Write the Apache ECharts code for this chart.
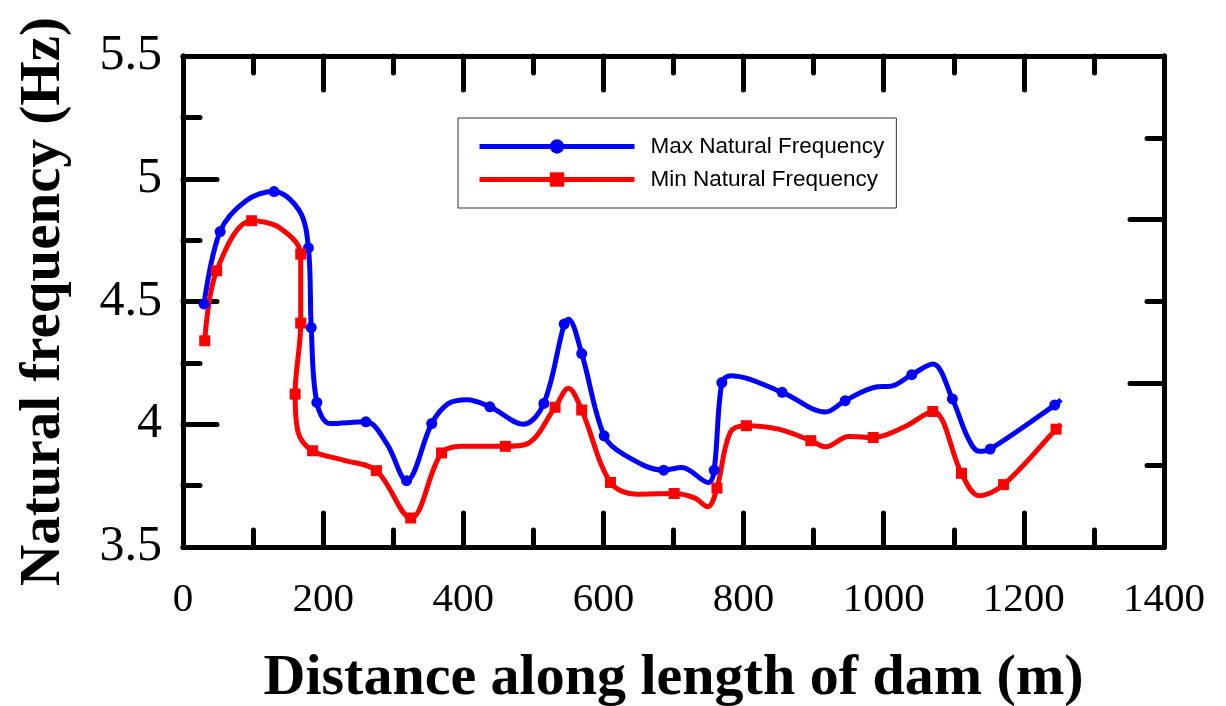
<!DOCTYPE html>
<html>
<head>
<meta charset="utf-8">
<script src="https://cdn.jsdelivr.net/npm/echarts@6/dist/echarts.min.js"></script>
<style>
  html, body { margin: 0; padding: 0; background: #fff; }
  #chart { width: 1226px; height: 706px; }
</style>
</head>
<body>
<div id="chart"></div>
<script>
// distance along dam (m) and frequency (Hz); marker flag = 1 where Origin drew a symbol
const maxDist   = [30, 53, 90, 130, 166, 179, 183, 191, 210, 261, 291, 319, 355, 378, 405, 438, 486, 515, 544, 550, 569, 601, 630, 686, 712, 750, 758, 769, 781, 855, 917, 945, 991, 1010, 1040, 1070, 1098, 1120, 1136, 1152, 1244, 1253];
const maxFreq   = [4.49, 4.785, 4.91, 4.948, 4.87, 4.718, 4.394, 4.089, 4.003, 4.01, 3.92, 3.77, 4.003, 4.083, 4.10, 4.071, 4.0, 4.085, 4.408, 4.428, 4.288, 3.953, 3.875, 3.813, 3.824, 3.763, 3.813, 4.17, 4.198, 4.13, 4.05, 4.096, 4.153, 4.155, 4.202, 4.245, 4.103, 3.946, 3.89, 3.899, 4.078, 4.10];
const maxMarker = [1, 1, 0, 1, 0, 1, 1, 1, 0, 1, 0, 1, 1, 0, 0, 1, 0, 1, 1, 0, 1, 1, 0, 1, 0, 0, 1, 1, 0, 1, 0, 1, 0, 0, 1, 0, 1, 0, 0, 1, 1, 0];

const minDist   = [31, 48, 98, 138, 168, 168, 160, 164, 185, 229, 276, 325, 369, 400, 460, 491, 531, 550, 569, 610, 648, 701, 730, 749, 762, 781, 804, 850, 896, 917, 950, 985, 1030, 1070, 1111, 1136, 1171, 1246, 1253];
const minFreq   = [4.34, 4.625, 4.829, 4.80, 4.693, 4.412, 4.123, 3.97, 3.892, 3.854, 3.811, 3.618, 3.883, 3.91, 3.91, 3.92, 4.069, 4.147, 4.058, 3.763, 3.715, 3.718, 3.70, 3.664, 3.740, 3.967, 3.994, 3.98, 3.933, 3.908, 3.95, 3.946, 3.99, 4.052, 3.80, 3.709, 3.754, 3.98, 4.0];
const minMarker = [1, 1, 1, 0, 1, 1, 1, 0, 1, 0, 1, 1, 1, 0, 1, 0, 1, 0, 1, 1, 0, 1, 0, 0, 1, 0, 1, 0, 1, 0, 0, 1, 0, 1, 1, 0, 1, 1, 0];

const seriesNames = ['Max Natural Frequency', 'Min Natural Frequency'];
const xTitle = 'Distance along length of dam (m)';
const yTitle = 'Natural frequency (Hz)';

const serif = "'Liberation Serif', 'Times New Roman', serif";

function toPoints(xs, ys, flags) {
  return xs.map((x, i) => flags[i] ? [x, ys[i]] : { value: [x, ys[i]], symbol: 'none' });
}

const tick = { show: true, inside: true, length: 34, lineStyle: { color: '#000', width: 5, cap: 'round' } };
const minor = { show: true, splitNumber: 2, length: 17, lineStyle: { color: '#000', width: 5, cap: 'round' } };
const line = { show: true, onZero: false, lineStyle: { color: '#000', width: 5 } };

const chart = echarts.init(document.getElementById('chart'));

chart.setOption({
  animation: false,
  backgroundColor: '#fff',
  grid: { left: 183, right: 62, top: 56, bottom: 159, containLabel: false, outerBoundsMode: 'none' },
  legend: {
    orient: 'vertical',
    left: 458,
    top: 118,
    padding: [17, 12, 17, 19],
    itemGap: 10,
    itemWidth: 155,
    itemHeight: 18,
    borderColor: '#333',
    borderWidth: 1,
    lineStyle: { width: 5 },
    textStyle: { fontFamily: "'Liberation Sans', Arial, sans-serif", fontSize: 22.5, color: '#000', padding: [0, 0, 0, 11] },
    data: seriesNames
  },
  xAxis: [
    {
      type: 'value', min: 0, max: 1400, interval: 200, position: 'bottom',
      name: xTitle, nameLocation: 'middle', nameGap: 103,
      nameTextStyle: { fontFamily: serif, fontWeight: 'bold', fontSize: 58, color: '#000' },
      axisLine: line, axisTick: tick, minorTick: minor,
      axisLabel: { fontFamily: serif, fontSize: 41, color: '#000', margin: 33, formatter: v => String(v) },
      splitLine: { show: false }
    },
    {
      type: 'value', min: 0, max: 1400, interval: 200, position: 'top',
      axisLine: line, axisTick: tick, minorTick: minor,
      axisLabel: { show: false }, splitLine: { show: false }
    }
  ],
  yAxis: [
    {
      type: 'value', min: 3.5, max: 5.5, interval: 0.5, position: 'left',
      name: yTitle, nameLocation: 'middle', nameGap: 110, nameRotate: 90,
      nameTextStyle: { fontFamily: serif, fontWeight: 'bold', fontSize: 57, color: '#000' },
      axisLine: line, axisTick: tick, minorTick: minor,
      axisLabel: { fontFamily: serif, fontSize: 50, color: '#000', margin: 21 },
      splitLine: { show: false }
    },
    {
      type: 'value', min: 0, max: 6, interval: 2, position: 'right',
      axisLine: line, axisTick: tick, minorTick: minor,
      axisLabel: { show: false }, splitLine: { show: false }
    }
  ],
  series: [
    {
      name: seriesNames[0],
      type: 'line',
      smooth: 0.35,
      showAllSymbol: true,
      symbol: 'circle',
      symbolSize: 11,
      color: '#0000ff',
      lineStyle: { width: 5, color: '#0000ff' },
      itemStyle: { color: '#0000ff' },
      data: toPoints(maxDist, maxFreq, maxMarker)
    },
    {
      name: seriesNames[1],
      type: 'line',
      smooth: 0.35,
      showAllSymbol: true,
      symbol: 'rect',
      symbolSize: 11,
      color: '#ff0000',
      lineStyle: { width: 5, color: '#ff0000' },
      itemStyle: { color: '#ff0000' },
      data: toPoints(minDist, minFreq, minMarker)
    }
  ]
});
</script>
</body>
</html>
